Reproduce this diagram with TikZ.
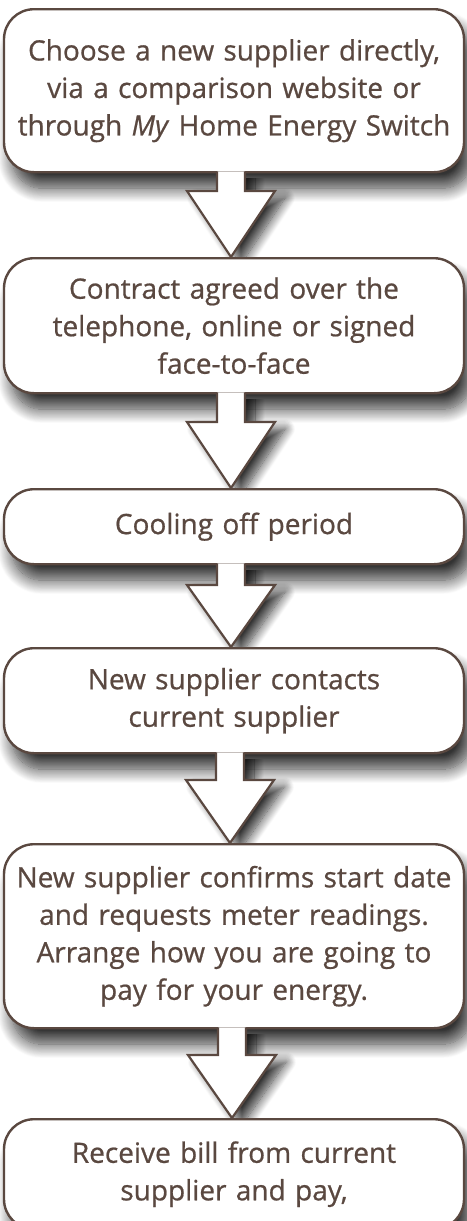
\documentclass[tikz,border=0pt]{standalone}
\usepackage{fontspec}
\setmainfont{Open Sans}[FakeBold=0.7]
\usetikzlibrary{shadows.blur}
\definecolor{brn}{HTML}{5A4840}
\tikzset{
  stepbox/.style={draw=brn, line width=2.4pt, fill=white, rounded corners=30pt,
    minimum width=460pt, text width=458pt, align=center, inner sep=0pt, anchor=north,
    text=brn, font=\fontsize{28}{37.5}\selectfont,
    blur shadow={shadow xshift=8pt, shadow yshift=-16pt, shadow blur radius=14pt, shadow blur steps=16, shadow opacity=80}},
  flowarrow/.style={draw=brn, line width=2.2pt, fill=white, line join=miter,
    blur shadow={shadow xshift=10pt, shadow yshift=-7pt, shadow blur radius=10pt, shadow blur steps=14, shadow opacity=80}}
}
% \arrowto{from node}{to coordinate}{head height}
\newcommand{\arrowto}[3]{%
  \path[flowarrow] let \p1=(#1.south), \p2=(#2) in
    (\x2-14pt,\y1+2pt) -- (\x2-14pt,\y2+#3) -- (\x2-44pt,\y2+#3) -- (\x2,\y2)
    -- (\x2+44pt,\y2+#3) -- (\x2+14pt,\y2+#3) -- (\x2+14pt,\y1+2pt);}
\begin{document}
\begin{tikzpicture}[x=1pt,y=-1pt]
\useasboundingbox (0,0) rectangle (466,1221);
\node[stepbox, minimum height=163pt] (b1) at (234,8)
  {Choose a new supplier directly,\\ via a comparison website or\\ through \textit{My} Home Energy Switch};
\coordinate (t2) at (231,257);
\arrowto{b1}{t2}{66pt}
\node[stepbox, minimum height=135pt] (b2) at (234,257)
  {Contract agreed over the\\ telephone, online or signed\\ face-to-face};
\coordinate (t3) at (231,488);
\arrowto{b2}{t3}{66pt}
\node[stepbox, minimum height=75pt] (b3) at (234,488)
  {Cooling off period};
\coordinate (t4) at (231,647);
\arrowto{b3}{t4}{62pt}
\node[stepbox, minimum height=105pt] (b4) at (234,647)
  {New supplier contacts\\ current supplier};
\coordinate (t5) at (230,843);
\arrowto{b4}{t5}{63pt}
\node[stepbox, minimum height=184pt] (b5) at (234,843)
  {New supplier confirms start date\\ and requests meter readings.\\ Arrange how you are going to\\ pay for your energy.};
\coordinate (t6) at (232,1118);
\arrowto{b5}{t6}{63pt}
\node[stepbox, minimum height=110pt] (b6) at (234,1118)
  {Receive bill from current\\ supplier and pay,};
\end{tikzpicture}
\end{document}
